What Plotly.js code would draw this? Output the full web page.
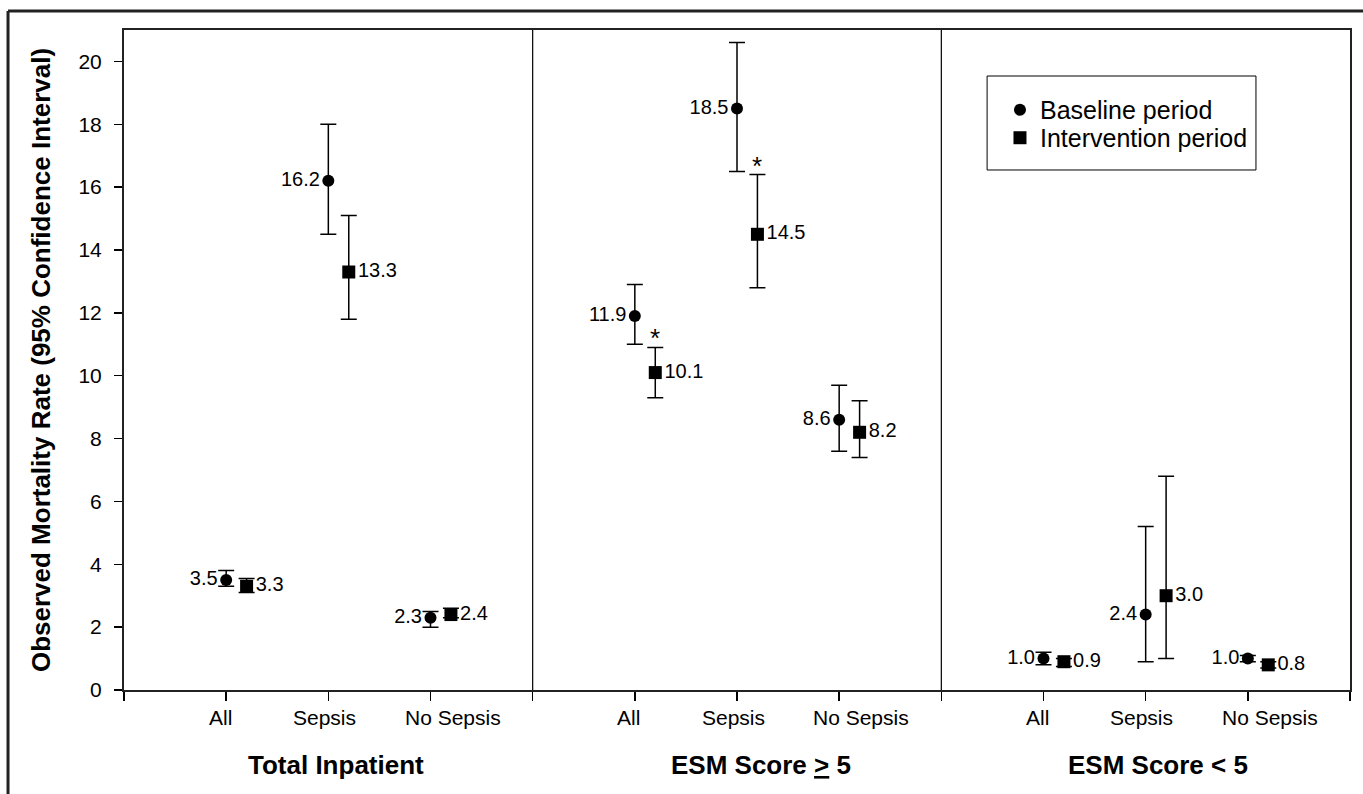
<!DOCTYPE html>
<html>
<head>
<meta charset="utf-8">
<script src="https://cdn.plot.ly/plotly-3.0.1.min.js"></script>
<style>
html,body{margin:0;padding:0;background:#fff;}
#chart{width:1363px;height:794px;}
</style>
</head>
<body>
<div id="chart"></div>
<script>
// ---- data ----
const groups = ['Total Inpatient', 'ESM Score <u>&gt;</u> 5', 'ESM Score &lt; 5'];
const subcats = ['All', 'Sepsis', 'No Sepsis'];
const baseline         = [3.5, 16.2, 2.3, 11.9, 18.5, 8.6, 1.0, 2.4, 1.0];
const baselineLow      = [3.3, 14.5, 2.0, 11.0, 16.5, 7.6, 0.8, 0.9, 0.9];
const baselineHigh     = [3.8, 18.0, 2.5, 12.9, 20.6, 9.7, 1.2, 5.2, 1.1];
const intervention     = [3.3, 13.3, 2.4, 10.1, 14.5, 8.2, 0.9, 3.0, 0.8];
const interventionLow  = [3.1, 11.8, 2.3, 9.3, 12.8, 7.4, 0.75, 1.0, 0.7];
const interventionHigh = [3.55, 15.1, 2.6, 10.9, 16.4, 9.2, 1.0, 6.8, 0.9];
const significant      = [false, false, false, true, true, false, false, false, false];
const yTicks = [0, 2, 4, 6, 8, 10, 12, 14, 16, 18, 20];

// ---- layout helpers ----
const FONT = 'Arial, "Liberation Sans", sans-serif';
const OFFSET = 0.2;
const subLabelShift = [-6, -4, 22];
const groupLabelShift = [8, 24, 12];

const xBase = [], xInt = [], catX = [];
groups.forEach((g, gi) => subcats.forEach((s, si) => {
  const x = gi * 4 + si + 1;
  xBase.push(x); xInt.push(x + OFFSET); catX.push(x);
}));

const errB = {type: 'data', symmetric: false,
  array: baselineHigh.map((h, i) => h - baseline[i]),
  arrayminus: baselineLow.map((l, i) => baseline[i] - l),
  color: '#000', thickness: 1.5, width: 8};
const errI = {type: 'data', symmetric: false,
  array: interventionHigh.map((h, i) => h - intervention[i]),
  arrayminus: interventionLow.map((l, i) => intervention[i] - l),
  color: '#000', thickness: 1.5, width: 8};

const traces = [
  {x: xBase, y: baseline, type: 'scatter', mode: 'markers', name: 'Baseline period', legend: 'legend',
   marker: {symbol: 'circle', size: 12, color: '#000'}, error_y: errB, hoverinfo: 'y'},
  {x: xInt, y: intervention, type: 'scatter', mode: 'markers', name: 'Intervention period', legend: 'legend2',
   marker: {symbol: 'square', size: 13, color: '#000'}, error_y: errI, hoverinfo: 'y'},
  {x: xBase, y: baseline, type: 'scatter', mode: 'markers+text', showlegend: false,
   marker: {size: 12, color: 'rgba(0,0,0,0)'},
   text: baseline.map(v => v.toFixed(1)), textposition: 'middle left',
   textfont: {family: FONT, size: 20, color: '#000'}, hoverinfo: 'skip'},
  {x: xInt, y: intervention, type: 'scatter', mode: 'markers+text', showlegend: false,
   marker: {size: 13, color: 'rgba(0,0,0,0)'},
   text: intervention.map(v => v.toFixed(1)), textposition: 'middle right',
   textfont: {family: FONT, size: 20, color: '#000'}, hoverinfo: 'skip'}
];

const annotations = [];
catX.forEach((x, i) => {
  annotations.push({x: x, y: 0, xref: 'x', yref: 'y', yshift: -27, xshift: subLabelShift[i % 3],
    text: subcats[i % 3], showarrow: false, xanchor: 'center', yanchor: 'middle',
    font: {family: FONT, size: 21, color: '#000'}});
  if (significant[i]) {
    annotations.push({x: xInt[i], y: interventionHigh[i], xref: 'x', yref: 'y',
      text: '*', showarrow: false, xanchor: 'center', yanchor: 'bottom', yshift: -8,
      font: {family: FONT, size: 26, color: '#000'}});
  }
});
groups.forEach((g, gi) => {
  annotations.push({x: gi * 4 + 2, y: 0, xref: 'x', yref: 'y', yshift: -75, xshift: groupLabelShift[gi],
    text: '<b>' + g + '</b>', showarrow: false, xanchor: 'center', yanchor: 'middle',
    font: {family: FONT, size: 26, color: '#000'}});
});

const shapes = [
  {type: 'line', xref: 'x', yref: 'paper', x0: 4, x1: 4, y0: 0, y1: 1, line: {color: '#000', width: 1.2}},
  {type: 'line', xref: 'x', yref: 'paper', x0: 8, x1: 8, y0: 0, y1: 1, line: {color: '#000', width: 1.2}},
  // legend box
  {type: 'rect', xref: 'paper', yref: 'paper', x0: 0.704, x1: 0.9233, y0: 0.7879, y1: 0.9303,
   line: {color: '#000', width: 1}, fillcolor: 'rgba(0,0,0,0)'},
  // outer frame (left and top edges)
  {type: 'line', xref: 'paper', yref: 'paper', x0: -0.0946, x1: -0.0946, y0: 1.0288, y1: -0.2,
   line: {color: '#222', width: 3}},
  {type: 'line', xref: 'paper', yref: 'paper', x0: -0.0946, x1: 1.05, y0: 1.0288, y1: 1.0288,
   line: {color: '#222', width: 3}}
];

const legendCommon = {xanchor: 'left', yanchor: 'middle', bgcolor: 'rgba(0,0,0,0)',
  borderwidth: 0, font: {family: FONT, size: 25, color: '#000'}};

const layout = {
  width: 1363, height: 794,
  margin: {l: 124, r: 13, t: 30, b: 104},
  paper_bgcolor: '#fff', plot_bgcolor: '#fff',
  font: {family: FONT, color: '#000'},
  showlegend: true,
  legend: Object.assign({x: 0.7145, y: 0.8788}, legendCommon),
  legend2: Object.assign({x: 0.7145, y: 0.8364}, legendCommon),
  xaxis: {range: [0, 12], tickvals: [0,1,2,3,4,5,6,7,8,9,10,11,12], ticktext: Array(13).fill(''),
    ticks: 'outside', ticklen: 9, tickwidth: 1.5, tickcolor: '#000',
    showline: true, linecolor: '#222', linewidth: 2, mirror: true,
    showgrid: false, zeroline: false, fixedrange: true},
  yaxis: {range: [0, 21], tickvals: yTicks, ticktext: yTicks.map(String),
    ticks: 'outside', ticklen: 8, tickwidth: 1.5, tickcolor: '#000',
    tickfont: {family: FONT, size: 21, color: '#000'}, ticklabelstandoff: 8,
    showline: true, linecolor: '#222', linewidth: 2, mirror: true,
    showgrid: false, zeroline: false, fixedrange: true,
    title: {text: '<b>Observed Mortality Rate (95% Confidence Interval)</b>',
      font: {family: FONT, size: 26, color: '#000'}, standoff: 20}},
  annotations: annotations,
  shapes: shapes
};

Plotly.newPlot('chart', traces, layout, {displayModeBar: false, staticPlot: true});
</script>
</body>
</html>
